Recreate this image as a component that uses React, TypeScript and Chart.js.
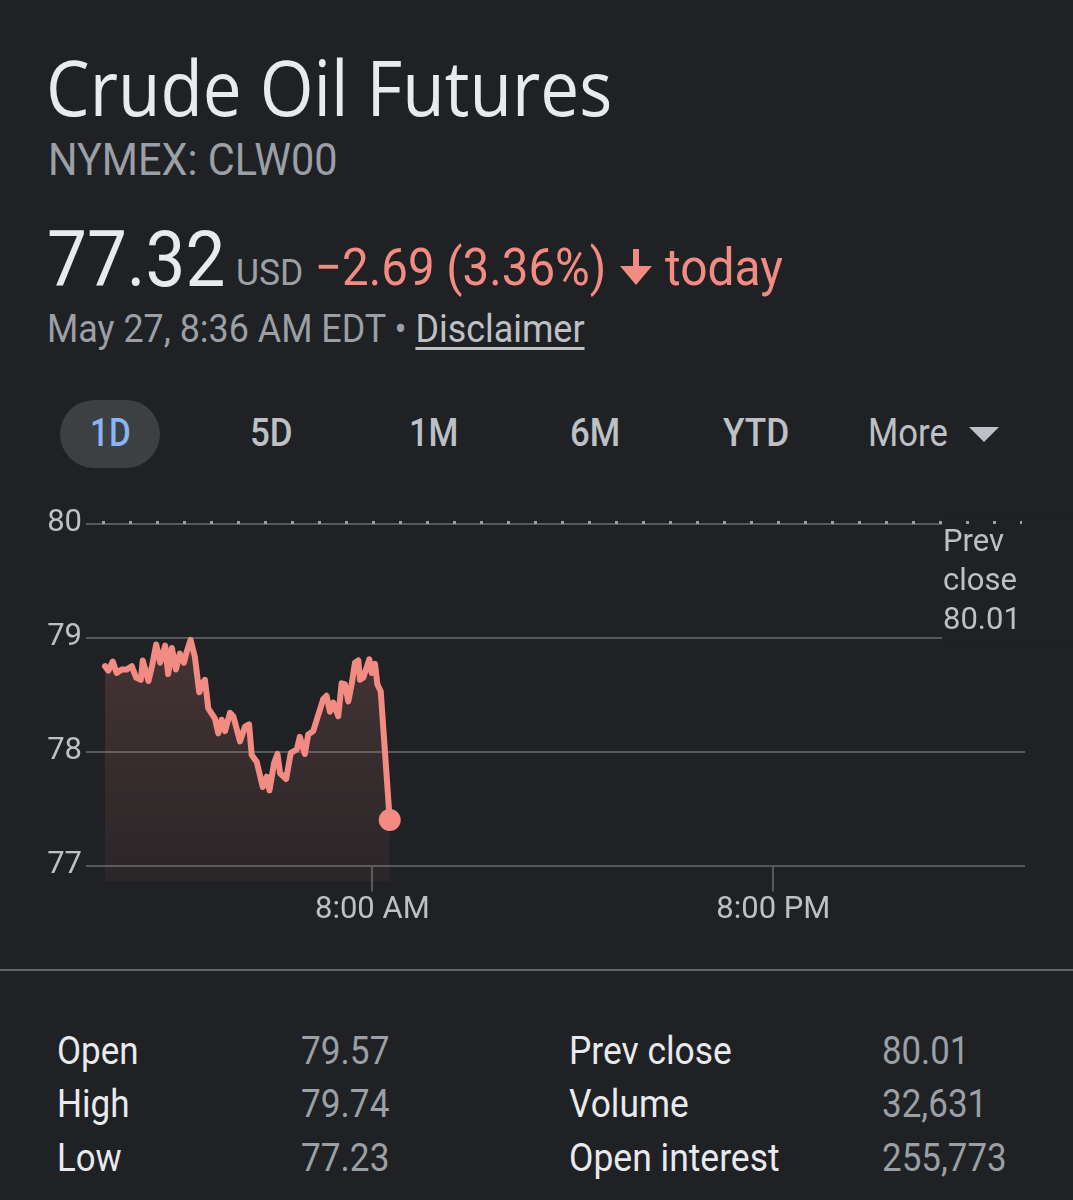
import React, { useEffect, useLayoutEffect, useRef } from "react";
import { Chart, registerables } from "chart.js";

Chart.register(...registerables);

// ---------- data ----------
const hours = [
  0.0, 0.1, 0.23, 0.35, 0.5, 0.65, 0.8, 0.93, 1.07, 1.13, 1.3, 1.4, 1.53, 1.65, 1.8, 1.89, 2.0, 2.12,
  2.24, 2.36, 2.44, 2.56, 2.69, 2.82, 2.92, 2.99, 3.09, 3.29, 3.39, 3.49, 3.59, 3.74, 3.84, 4.04, 4.19,
  4.31, 4.39, 4.54, 4.72, 4.84, 4.92, 5.06, 5.16, 5.24, 5.42, 5.56, 5.74, 5.83, 5.98, 6.08, 6.23, 6.53,
  6.63, 6.73, 6.83, 6.98, 7.08, 7.18, 7.28, 7.38, 7.48, 7.58, 7.63, 7.73, 7.91, 7.98, 8.08, 8.15, 8.25,
  8.52,
];
const prices = [
  78.75, 78.71, 78.79, 78.69, 78.72, 78.72, 78.75, 78.65, 78.63, 78.8, 78.62, 78.74, 78.94, 78.78, 78.93,
  78.68, 78.91, 78.72, 78.86, 78.78, 78.87, 78.98, 78.83, 78.52, 78.6, 78.63, 78.38, 78.29, 78.16, 78.28,
  78.18, 78.34, 78.31, 78.09, 78.22, 78.24, 77.97, 77.91, 77.69, 77.78, 77.66, 77.9, 77.98, 77.81, 77.76,
  77.99, 78.02, 78.13, 77.98, 78.15, 78.18, 78.46, 78.49, 78.35, 78.43, 78.31, 78.6, 78.59, 78.44, 78.59,
  78.78, 78.8, 78.63, 78.65, 78.81, 78.69, 78.77, 78.59, 78.53, 77.4,
];
const xTickHours = [8, 20];
const xTickLabels = ["8:00 AM", "8:00 PM"];
const yTicks = [77, 78, 79, 80];
const prevClose = 80.01;
const prevCloseLabel = ["Prev", "close", "80.01"];
const rangeLabels = ["1D", "5D", "1M", "6M", "YTD", "More"];
const statsLeftLabels = ["Open", "High", "Low"];
const statsLeftValues = ["79.57", "79.74", "77.23"];
const statsRightLabels = ["Prev close", "Volume", "Open interest"];
const statsRightValues = ["80.01", "32,631", "255,773"];

// ---------- styles ----------
const BG = "#202124";
const GRID = "#55585d";
const RED = "#f28b82";
const WHITE = "#e8eaed";
const GREY = "#9aa0a6";
const LIGHT = "#bdc1c6";

type FitProps = {
  x: number;
  base: number;
  size: number;
  w?: number;
  color: string;
  weight?: number;
  family?: string;
  asc?: number;
  children: React.ReactNode;
};

function Fit({ x, base, size, w, color, weight = 400, family = "Roboto", asc = 0.842, children }: FitProps) {
  const ref = useRef<HTMLDivElement>(null);
  useLayoutEffect(() => {
    const el = ref.current;
    if (!el || !w) return;
    const ow = el.offsetWidth;
    if (ow > 0) el.style.transform = `scaleX(${w / ow})`;
  });
  return (
    <div
      ref={ref}
      style={{
        position: "absolute",
        left: x,
        top: base - asc * size,
        fontSize: size,
        lineHeight: `${size}px`,
        whiteSpace: "nowrap",
        transformOrigin: "0 0",
        color,
        fontWeight: weight,
        fontFamily: family,
        display: "inline-block",
      }}
    >
      {children}
    </div>
  );
}

function PriceChart() {
  const ref = useRef<HTMLCanvasElement>(null);
  useEffect(() => {
    const canvas = ref.current!;
    const data = hours.map((h, i) => ({ x: h, y: prices[i] }));
    const last = data.length - 1;

    const overlay = {
      id: "overlay",
      beforeDatasetsDraw(chart: any) {
        const { ctx, chartArea, scales } = chart;
        const x = scales.x;
        const y = scales.y;
        ctx.save();
        const y80 = y.getPixelForValue(80);
        const y79 = y.getPixelForValue(79);
        ctx.fillStyle = BG;
        ctx.fillRect(942, y80 - 4, chart.width - 942, y79 - y80 + 8);
        // previous close dotted line
        const yp = y.getPixelForValue(prevClose);
        ctx.strokeStyle = GREY;
        ctx.lineWidth = 3;
        ctx.setLineDash([3, 24]);
        ctx.beginPath();
        ctx.moveTo(chartArea.left + 16, yp);
        ctx.lineTo(1022, yp);
        ctx.stroke();
        ctx.setLineDash([]);
        // x tick marks
        const y77 = y.getPixelForValue(77);
        ctx.strokeStyle = GRID;
        ctx.lineWidth = 2;
        xTickHours.forEach((h) => {
          const px = Math.round(x.getPixelForValue(h));
          ctx.beginPath();
          ctx.moveTo(px, y77);
          ctx.lineTo(px, y77 + 26);
          ctx.stroke();
        });
        ctx.restore();
      },
      afterDraw(chart: any) {
        const { ctx, scales } = chart;
        const y80 = scales.y.getPixelForValue(80);
        ctx.save();
        ctx.font = "31px Roboto";
        ctx.fillStyle = LIGHT;
        ctx.textAlign = "left";
        ctx.textBaseline = "middle";
        prevCloseLabel.forEach((t, i) => ctx.fillText(t, 943, y80 + 20 + i * 39));
        ctx.restore();
      },
    };

    const chart = new Chart(canvas, {
      type: "line",
      data: {
        datasets: [
          {
            data,
            borderColor: RED,
            borderWidth: 6,
            borderJoinStyle: "round",
            borderCapStyle: "round",
            tension: 0,
            fill: "start",
            backgroundColor: (c: any) => {
              const { chart: ch } = c;
              const { chartArea, scales } = ch;
              if (!chartArea) return "transparent";
              const g = ch.ctx.createLinearGradient(0, scales.y.getPixelForValue(79), 0, chartArea.bottom);
              g.addColorStop(0, "rgba(242,139,130,0.18)");
              g.addColorStop(1, "rgba(242,139,130,0.05)");
              return g;
            },
            pointRadius: (c: any) => (c.dataIndex === last ? 11 : 0),
            pointHoverRadius: 0,
            pointBackgroundColor: RED,
            pointBorderWidth: 0,
          },
        ],
      },
      options: {
        responsive: false,
        animation: false,
        devicePixelRatio: 1,
        events: [],
        layout: { padding: { left: 48, right: 48, top: 22, bottom: 7 } },
        plugins: { legend: { display: false }, tooltip: { enabled: false } },
        scales: {
          x: {
            type: "linear",
            min: -0.569,
            max: 27.53,
            grid: { display: false, drawTicks: false },
            border: { display: false },
            afterBuildTicks: (s: any) => {
              s.ticks = xTickHours.map((v) => ({ value: v }));
            },
            ticks: {
              color: LIGHT,
              font: { family: "Roboto", size: 31 },
              padding: 10,
              maxRotation: 0,
              autoSkip: false,
              callback: (v: any) => xTickLabels[xTickHours.indexOf(Number(v))],
            },
          },
          y: {
            min: 76.858,
            max: 80.097,
            afterBuildTicks: (s: any) => {
              s.ticks = yTicks.map((v) => ({ value: v }));
            },
            afterFit: (s: any) => {
              s.width = 38;
            },
            grid: { color: GRID, lineWidth: 2, drawTicks: false },
            border: { display: false },
            ticks: {
              color: LIGHT,
              font: { family: "Roboto", size: 31 },
              padding: 4,
              callback: (v: any) => String(v),
            },
          },
        },
      },
      plugins: [overlay],
    } as any);
    return () => chart.destroy();
  }, []);
  return (
    <canvas
      ref={ref}
      width={1073}
      height={456}
      style={{ position: "absolute", left: 0, top: 490, width: 1073, height: 456 }}
    />
  );
}

const rangeX = [90, 250, 409, 570, 723, 868];
const rangeW = [41, 43, 49, 50, 66, 80];
const leftLabelW = [82, 73, 65];
const leftValW = [88, 88, 88];
const rightLabelW = [163, 120, 211];
const rightValW = [87, 105, 125];
const rowBase = [1064, 1117, 1171];

export default function App() {
  useEffect(() => {
    document.body.style.margin = "0";
    document.body.style.background = BG;
  }, []);
  return (
    <div
      style={{
        position: "relative",
        width: 1073,
        height: 1200,
        background: BG,
        overflow: "hidden",
        fontFamily: "Roboto",
      }}
    >
      <Fit x={46} base={116} size={76} w={566} color={WHITE} family="'Open Sans'" asc={0.888}>
        Crude Oil Futures
      </Fit>
      <Fit x={48} base={175} size={45} w={290} color={GREY}>
        NYMEX: CLW00
      </Fit>
      <Fit x={47} base={287} size={77} w={178} color={WHITE}>
        77.32
      </Fit>
      <Fit x={236} base={285} size={36} w={67} color={GREY}>
        USD
      </Fit>
      <Fit x={315} base={286} size={52} w={291} color={RED}>
        −2.69 (3.36%)
      </Fit>
      <svg width={34} height={38} style={{ position: "absolute", left: 619, top: 249 }}>
        <polygon points="14,0 20,0 20,17 33,17 17,36 1,17 14,17" fill={RED} />
      </svg>
      <Fit x={665} base={286} size={52} w={118} color={RED}>
        today
      </Fit>
      <Fit x={47} base={343} size={39} w={538} color={GREY}>
        <span>May 27, 8:36 AM EDT • </span>
        <span style={{ color: LIGHT, textDecoration: "underline", textUnderlineOffset: 5 }}>Disclaimer</span>
      </Fit>

      <div
        style={{
          position: "absolute",
          left: 60,
          top: 400,
          width: 100,
          height: 68,
          borderRadius: 34,
          background: "#3c4043",
        }}
      />
      {rangeLabels.map((t, i) => (
        <Fit
          key={t}
          x={rangeX[i]}
          base={447}
          size={39}
          w={rangeW[i]}
          color={i === 0 ? "#8ab4f8" : LIGHT}
          weight={t === "More" ? 400 : 500}
        >
          {t}
        </Fit>
      ))}
      <svg width={30} height={16} style={{ position: "absolute", left: 969, top: 427 }}>
        <polygon points="0,0 30,0 15,15" fill={LIGHT} />
      </svg>

      <PriceChart />

      <div style={{ position: "absolute", left: 0, top: 969, width: 1073, height: 2, background: "#5f6368" }} />

      {statsLeftLabels.map((t, i) => (
        <Fit key={t} x={57} base={rowBase[i]} size={38} w={leftLabelW[i]} color={WHITE}>
          {t}
        </Fit>
      ))}
      {statsLeftValues.map((t, i) => (
        <Fit key={"lv" + i} x={301} base={rowBase[i]} size={38} w={leftValW[i]} color={GREY}>
          {t}
        </Fit>
      ))}
      {statsRightLabels.map((t, i) => (
        <Fit key={t} x={569} base={rowBase[i]} size={38} w={rightLabelW[i]} color={WHITE}>
          {t}
        </Fit>
      ))}
      {statsRightValues.map((t, i) => (
        <Fit key={"rv" + i} x={882} base={rowBase[i]} size={38} w={rightValW[i]} color={GREY}>
          {t}
        </Fit>
      ))}
    </div>
  );
}
